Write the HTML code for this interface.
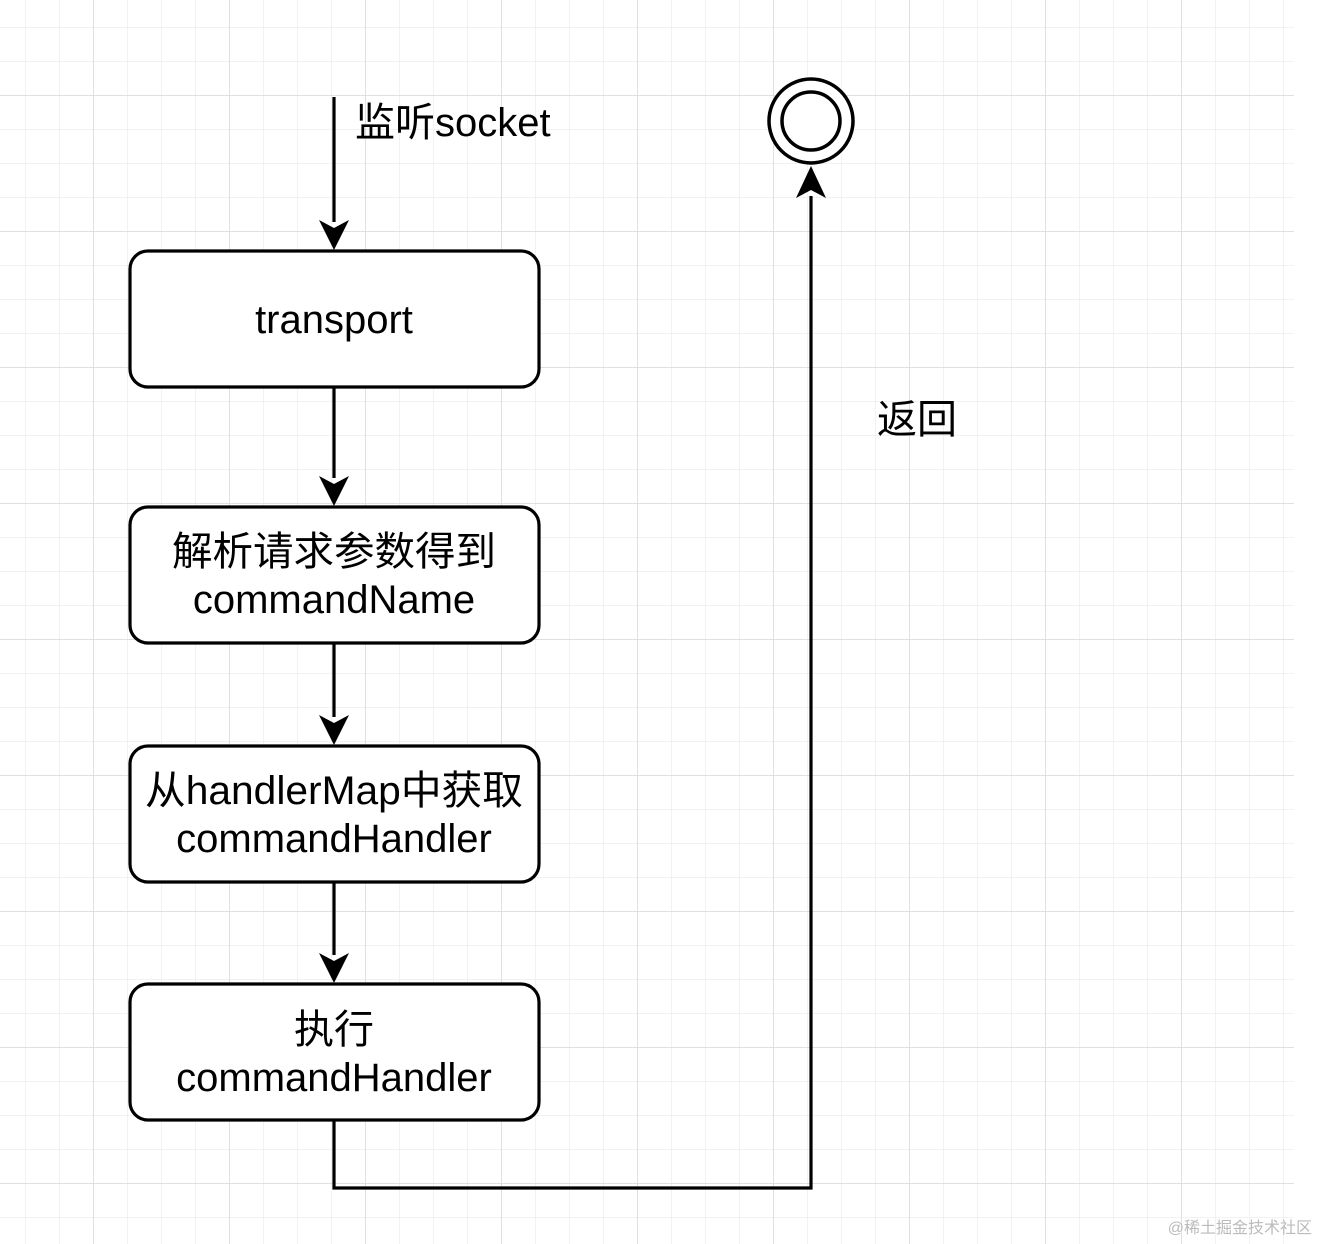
<!DOCTYPE html>
<html><head><meta charset="utf-8"><style>
html,body{margin:0;padding:0;background:#fff;}
svg{display:block;}
text{font-family:"Liberation Sans","Noto Sans CJK SC",sans-serif;fill:#000;}
</style></head><body>
<svg width="1320" height="1244" viewBox="0 0 1320 1244" xmlns="http://www.w3.org/2000/svg">
<defs>
<pattern id="minor" x="25" y="27" width="34" height="34" patternUnits="userSpaceOnUse">
<path d="M0 0H34M0 0V34" stroke="#eeeeee" stroke-width="1.5" fill="none"/>
</pattern>
<pattern id="major" x="93" y="95" width="136" height="136" patternUnits="userSpaceOnUse">
<path d="M0 0H136M0 0V136" stroke="#d8d8d8" stroke-width="1.5" fill="none"/>
</pattern>
</defs>
<rect x="0" y="0" width="1294" height="1244" fill="url(#minor)"/>
<rect x="0" y="0" width="1294" height="1244" fill="url(#major)"/>

<g fill="none" stroke="#000" stroke-width="3.2">
<path d="M334 97 V222"/>
<path d="M334 387 V478"/>
<path d="M334 643 V717"/>
<path d="M334 882 V955"/>
<path d="M334 1120 V1188 H811 V196"/>
</g>
<g fill="#000">
<path d="M319 220 L334 250 L349 220 L334 228 Z"/>
<path d="M319 476 L334 506 L349 476 L334 484 Z"/>
<path d="M319 715 L334 745 L349 715 L334 723 Z"/>
<path d="M319 953 L334 983 L349 953 L334 961 Z"/>
<path d="M796 198 L811 166 L826 198 L811 190 Z"/>
</g>

<g fill="#fff" stroke="#000" stroke-width="3.2">
<rect x="130" y="251" width="409" height="136" rx="18"/>
<rect x="130" y="507" width="409" height="136" rx="18"/>
<rect x="130" y="746" width="409" height="136" rx="18"/>
<rect x="130" y="984" width="409" height="136" rx="18"/>
<circle cx="811" cy="121" r="42" fill="#fff" stroke-width="3.5"/>
<circle cx="811" cy="121" r="29" fill="#fff" stroke-width="3.5"/>
</g>

<g font-size="40" text-anchor="middle">
<text x="334" y="333">transport</text>
<text x="334" y="565" textLength="324" lengthAdjust="spacingAndGlyphs">解析请求参数得到</text>
<text x="334" y="613">commandName</text>
<text x="334" y="804" textLength="378" lengthAdjust="spacingAndGlyphs">从handlerMap中获取</text>
<text x="334" y="852">commandHandler</text>
<text x="334" y="1043">执行</text>
<text x="334" y="1091">commandHandler</text>
</g>
<text x="355" y="136" font-size="40">监听socket</text>
<text x="877" y="433" font-size="40">返回</text>
<text x="1312" y="1233" font-size="16" text-anchor="end" style="fill:#bbb">@稀土掘金技术社区</text>
</svg>
</body></html>
